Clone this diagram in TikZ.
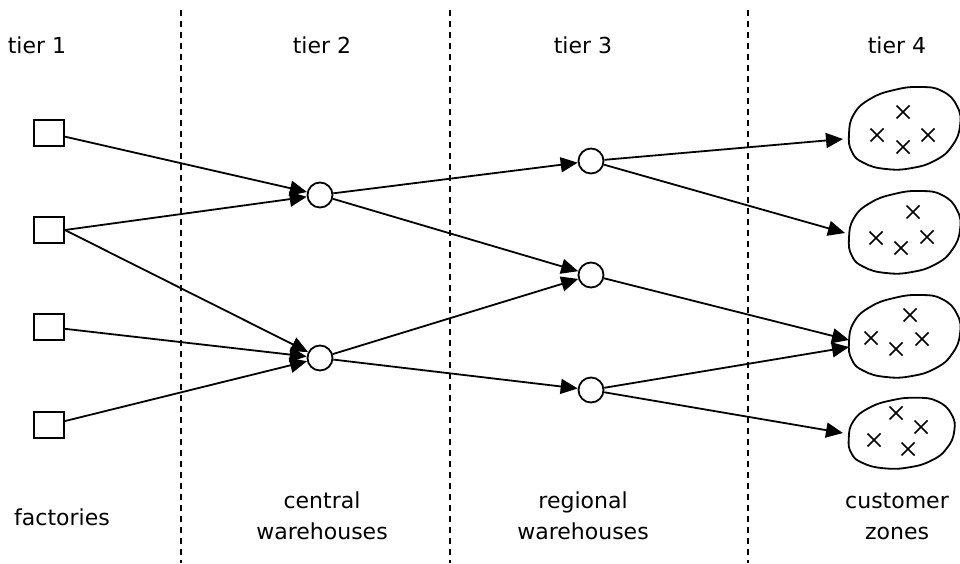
\documentclass[tikz,border=0pt]{standalone}
\usepackage{fontspec}
\setmainfont{DejaVu Sans}
\usetikzlibrary{arrows.meta}
\begin{document}
\begin{tikzpicture}[x=1pt,y=-1pt,
  lab/.style={align=center, text=black, font=\fontsize{22}{31}\selectfont, inner sep=0pt},
  fac/.style={draw, line width=1.8pt, minimum width=30pt, minimum height=26pt, inner sep=0pt},
  hub/.style={draw, circle, line width=1.8pt, minimum size=25pt, inner sep=0pt},
  zone/.style={minimum width=108pt, minimum height=82pt, inner sep=0pt},
  flow/.style={line width=1.8pt, -{Triangle[length=17pt,width=15pt]}},
  sep/.style={line width=1.5pt, dash pattern=on 6pt off 5pt},
  blobline/.style={line width=1.8pt},
  crossline/.style={line width=1.5pt}]
\useasboundingbox (0,0) rectangle (960,563);
% separators
\foreach \x in {181,450,748} \draw[sep] (\x,10) -- (\x,563);
% labels
\node[lab] (t1) at (37,45) {tier 1};
\node[lab] (t2) at (322,45) {tier 2};
\node[lab] (t3) at (583,45) {tier 3};
\node[lab] (t4) at (897,45) {tier 4};
\node[lab] (l1) at (62,517) {factories};
\node[lab] (l2) at (322,516) {central\\warehouses};
\node[lab] (l3) at (583,516) {regional\\warehouses};
\node[lab] (l4) at (897,516) {customer\\zones};
% factories
\node[fac] (s1) at (49,133) {};
\node[fac] (s2) at (49,230) {};
\node[fac] (s3) at (49,327) {};
\node[fac] (s4) at (49,425) {};
% central warehouses
\node[hub] (c1) at (320,195) {};
\node[hub] (c2) at (320,358) {};
% regional warehouses
\node[hub] (r1) at (591,161) {};
\node[hub] (r2) at (591,275) {};
\node[hub] (r3) at (591,390) {};
% customer zones
\node[zone] (z1) at (904,128) {};
\node[zone] (z2) at (904,232) {};
\node[zone] (z3) at (904,336) {};
\node[zone, minimum height=70pt] (z4) at (901,433) {};
\def\blobpts{(-55,6) (-52,24) (-40,35) (-18,41) (8,40) (32,32) (48,18) (56,-2) (53,-22) (38,-37) (16,-41) (-10,-38) (-34,-29) (-50,-14)}
\foreach \z in {z1,z2,z3}
  \draw[blobline, shift={(\z.center)}] plot[smooth cycle, tension=0.8] coordinates {\blobpts};
\draw[blobline, shift={(z4.center)}, xscale=0.95, yscale=0.86] plot[smooth cycle, tension=0.8] coordinates {\blobpts};
% crosses
\foreach \cx/\cy in {903/112,877/135,928/135,903/147,
                     913/212,876/238,927/237,901/248,
                     910/315,871/338,922/339,896/349,
                     896/413,921/427,874/440,908/449}
  \draw[crossline] (\cx-6.5,\cy-6.5) -- (\cx+6.5,\cy+6.5) (\cx-6.5,\cy+6.5) -- (\cx+6.5,\cy-6.5);
% flows
\draw[flow] (s1) -- (c1);
\draw[flow] (s2.east) -- (c1);
\draw[flow] (s2.east) -- (c2);
\draw[flow] (s3) -- (c2);
\draw[flow] (s4) -- (c2);
\draw[flow] (c1) -- (r1);
\draw[flow] (c1) -- (r2);
\draw[flow] (c2) -- (r2);
\draw[flow] (c2) -- (r3);
\draw[flow] (r1) -- ([shift={(-61,11)}]z1.center);
\draw[flow] (r1) -- ([shift={(-59,1)}]z2.center);
\draw[flow] (r2) -- ([shift={(-55,4)}]z3.center);
\draw[flow] (r3) -- ([shift={(-55,11)}]z3.center);
\draw[flow] (r3) -- ([shift={(-58,0)}]z4.center);
\end{tikzpicture}
\end{document}
